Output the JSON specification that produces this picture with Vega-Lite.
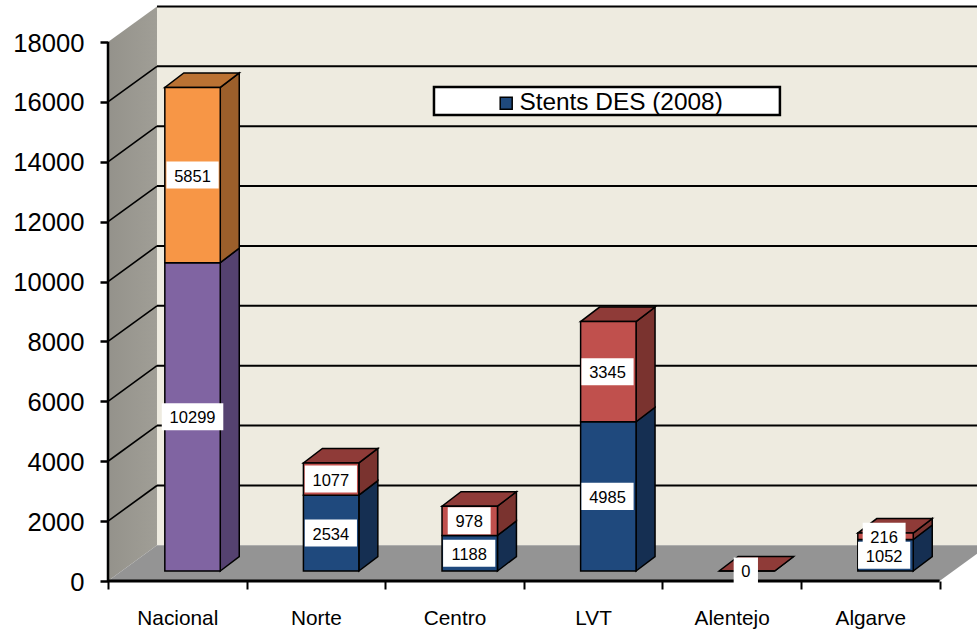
{
"$schema":"https://vega.github.io/schema/vega-lite/v6.json",
"width":869,"height":581,
"autosize":"none",
"padding":{"left":108,"top":0,"right":0,"bottom":51},
"background":"white",
"config":{"view":{"stroke":null},"font":"Liberation Sans"},
"datasets":{
"bars":[
{"region":"Nacional","segment":1,"value":10299},
{"region":"Nacional","segment":2,"value":5851},
{"region":"Norte","segment":1,"value":2534},
{"region":"Norte","segment":2,"value":1077},
{"region":"Centro","segment":1,"value":1188},
{"region":"Centro","segment":2,"value":978},
{"region":"LVT","segment":1,"value":4985},
{"region":"LVT","segment":2,"value":3345},
{"region":"Alentejo","segment":2,"value":0},
{"region":"Algarve","segment":1,"value":1052},
{"region":"Algarve","segment":2,"value":216}
],
"grid":[{"v":2000},{"v":4000},{"v":6000},{"v":8000},{"v":10000},{"v":12000},{"v":14000},{"v":16000},{"v":18000}]
},
"encoding":{
"x":{"field":"px","type":"quantitative","title":null,"scale":{"domain":[0,6.27],"nice":false,"zero":false},
"axis":{"values":[0,0.5,1,1.5,2,2.5,3,3.5,4,4.5,5,5.5,6],"grid":false,"domain":false,"tickColor":"black","tickWidth":2,"tickSize":8,
"tickOpacity":{"condition":{"test":"datum.value % 1 === 0","value":1},"value":0},
"labelExpr":"datum.value % 1 === 0 ? '' : ['Nacional','Norte','Centro','LVT','Alentejo','Algarve'][floor(datum.value)]",
"labelFontSize":20.8,"labelFont":"Liberation Sans","labelColor":"black","labelPadding":19,"labelOverlap":false,"labelBound":false,"labelFlush":false,"labelAngle":0}},
"y":{"field":"py","type":"quantitative","title":null,"scale":{"domain":[0,19405],"nice":false,"zero":false},
"axis":{"values":[0,2000,4000,6000,8000,10000,12000,14000,16000,18000],"grid":false,"domain":false,"tickColor":"black","tickWidth":2.5,"tickSize":8,
"format":"d","labelFontSize":25.6,"labelFont":"Liberation Sans","labelColor":"black","labelPadding":16,"labelOffset":1,"labelOverlap":false,"labelBound":false,"labelFlush":false}}
},
"layer":[
{"data":{"values":[{"k":1}]},
"transform":[{"calculate":"0.3535","as":"px"},{"calculate":"6.27","as":"px2"},{"calculate":"1190","as":"py"},{"calculate":"19190","as":"py2"}],
"mark":{"type":"rect","fill":"#eeebe0","stroke":null},
"encoding":{"x2":{"field":"px2"},"y2":{"field":"py2"}}},
{"data":{"values":[{"t":0},{"t":1}]},
"transform":[{"calculate":"datum.t*0.3535","as":"px"},{"calculate":"datum.t*1190","as":"py"},{"calculate":"18000+datum.t*1190","as":"py2"}],
"mark":{"type":"area","orient":"vertical","fill":{"gradient":"linear","x1":0,"y1":0,"x2":1,"y2":0,"stops":[{"offset":0,"color":"#94928b"},{"offset":1,"color":"#a09e96"}]},"stroke":null},
"encoding":{"y2":{"field":"py2"}}},
{"data":{"values":[{"c":0},{"c":1},{"c":2},{"c":3}]},
"transform":[{"calculate":"[0,0.3535,6,6.27][datum.c]","as":"px"},{"calculate":"[0,0,0,909][datum.c]","as":"py"},{"calculate":"[0,1190,1190,1190][datum.c]","as":"py2"}],
"mark":{"type":"area","orient":"vertical","fill":"#949494","stroke":null},
"encoding":{"y2":{"field":"py2"}}},
{"data":{"name":"grid"},
"mark":{"type":"rule","color":"black","strokeWidth":2},
"transform":[{"calculate":"datum.v+1190","as":"py"},{"calculate":"0.3535","as":"px"},{"calculate":"6.27","as":"px2"}],
"encoding":{"x2":{"field":"px2"}}},
{"data":{"name":"grid"},
"transform":[{"filter":"datum.v<18000"},{"calculate":"[0,1]","as":"t"},{"flatten":["t"]},{"calculate":"datum.t*0.3535","as":"px"},{"calculate":"datum.v+datum.t*1190","as":"py"}],
"mark":{"type":"line","color":"black","strokeWidth":1.6},
"encoding":{"detail":{"field":"v"}}},
{"data":{"name":"bars"},
"transform":[
{"stack":"value","groupby":["region"],"sort":[{"field":"segment","order":"ascending"}],"as":["s0","s1"]},
{"calculate":"indexof(['Nacional','Norte','Centro','LVT','Alentejo','Algarve'],datum.region)","as":"idx"},
{"calculate":"'side'+(datum.region=='Nacional'?'N':'R')+datum.segment","as":"key"},
{"calculate":"datum.region+datum.segment","as":"part"},
{"calculate":"[0,1]","as":"t"},{"flatten":["t"]},
{"calculate":"datum.idx+0.81+datum.t*0.137","as":"px"},
{"calculate":"334+datum.s0+datum.t*484","as":"py"},
{"calculate":"334+datum.s1+datum.t*484","as":"py2"}],
"mark":{"type":"area","orient":"vertical","stroke":"black","strokeWidth":1.5},
"encoding":{"y2":{"field":"py2"},"detail":{"field":"part"},
"fill":{"field":"key","type":"nominal","legend":null,"scale":{"domain":["frontN1","frontN2","frontR1","frontR2","sideN1","sideN2","sideR1","sideR2","topN2","topR2"],"range":["#8064a2","#f79646","#1f497d","#c0504d","#554270","#9c5f2b","#152f52","#7a332f","#bb7233","#8f3b38"]}}}},
{"data":{"name":"bars"},
"transform":[
{"stack":"value","groupby":["region"],"sort":[{"field":"segment","order":"ascending"}],"as":["s0","s1"]},
{"joinaggregate":[{"op":"max","field":"s1","as":"total"}],"groupby":["region"]},
{"filter":"datum.s1==datum.total"},
{"calculate":"indexof(['Nacional','Norte','Centro','LVT','Alentejo','Algarve'],datum.region)","as":"idx"},
{"calculate":"'top'+(datum.region=='Nacional'?'N':'R')+datum.segment","as":"key"},
{"calculate":"[0,1,2,3]","as":"c"},{"flatten":["c"]},
{"calculate":"datum.idx+[0.41,0.547,0.81,0.947][datum.c]","as":"px"},
{"calculate":"334+datum.s1+[0,0,0,484][datum.c]","as":"py"},
{"calculate":"334+datum.s1+[0,484,484,484][datum.c]","as":"py2"}],
"mark":{"type":"area","orient":"vertical","stroke":"black","strokeWidth":1.5},
"encoding":{"y2":{"field":"py2"},"detail":{"field":"region"},
"fill":{"field":"key","type":"nominal","legend":null}}},
{"data":{"name":"bars"},
"transform":[
{"stack":"value","groupby":["region"],"sort":[{"field":"segment","order":"ascending"}],"as":["s0","s1"]},
{"calculate":"indexof(['Nacional','Norte','Centro','LVT','Alentejo','Algarve'],datum.region)","as":"idx"},
{"calculate":"'front'+(datum.region=='Nacional'?'N':'R')+datum.segment","as":"key"},
{"calculate":"datum.idx+0.41","as":"px"},{"calculate":"datum.idx+0.81","as":"px2"},
{"calculate":"334+datum.s0","as":"py"},{"calculate":"334+datum.s1","as":"py2"}],
"mark":{"type":"rect","stroke":"black","strokeWidth":1.5},
"encoding":{"x2":{"field":"px2"},"y2":{"field":"py2"},"fill":{"field":"key","type":"nominal","legend":null}}},
{"data":{"values":[{"k":1}]},
"transform":[{"calculate":"0","as":"px"},{"calculate":"0","as":"py"},{"calculate":"18000","as":"py2"}],
"mark":{"type":"rule","color":"black","strokeWidth":2.5},
"encoding":{"y2":{"field":"py2"}}},
{"data":{"values":[{"k":1}]},
"transform":[{"calculate":"0","as":"px"},{"calculate":"6","as":"px2"},{"calculate":"0","as":"py"}],
"mark":{"type":"rule","color":"black","strokeWidth":3},
"encoding":{"x2":{"field":"px2"}}},
{"data":{"name":"bars"},
"transform":[
{"stack":"value","groupby":["region"],"sort":[{"field":"segment","order":"ascending"}],"as":["s0","s1"]},
{"calculate":"indexof(['Nacional','Norte','Centro','LVT','Alentejo','Algarve'],datum.region)","as":"idx"},
{"calculate":"(9.3*length(''+datum.value)+15)/2/138.6","as":"hw"},
{"calculate":"datum.idx+0.61-datum.idx*0.002-datum.hw","as":"px"},{"calculate":"datum.idx+0.61-datum.idx*0.002+datum.hw","as":"px2"},
{"calculate":"334+datum.s0+datum.value/2-451","as":"py"},{"calculate":"334+datum.s0+datum.value/2+451","as":"py2"}],
"mark":{"type":"rect","fill":"white","stroke":null},
"encoding":{"x2":{"field":"px2"},"y2":{"field":"py2"}}},
{"data":{"name":"bars"},
"transform":[
{"stack":"value","groupby":["region"],"sort":[{"field":"segment","order":"ascending"}],"as":["s0","s1"]},
{"calculate":"indexof(['Nacional','Norte','Centro','LVT','Alentejo','Algarve'],datum.region)","as":"idx"},
{"calculate":"datum.idx+0.61-datum.idx*0.002","as":"px"},
{"calculate":"334+datum.s0+datum.value/2","as":"py"}],
"mark":{"type":"text","font":"Liberation Sans","fontSize":16.5,"color":"black","baseline":"middle","align":"center","dy":1.5},
"encoding":{"text":{"field":"value","type":"quantitative","format":"d"}}},
{"data":{"values":[{"k":1}]},
"transform":[{"calculate":"2.352","as":"px"},{"calculate":"4.848","as":"px2"},{"calculate":"15564","as":"py"},{"calculate":"16499","as":"py2"}],
"mark":{"type":"rect","fill":"white","stroke":"black","strokeWidth":2.5},
"encoding":{"x2":{"field":"px2"},"y2":{"field":"py2"}}},
{"data":{"values":[{"k":1}]},"transform":[{"calculate":"2.5","as":"px"},{"calculate":"16000","as":"py"}],
"mark":{"type":"point","size":0,"filled":true,"fill":"#1f497d","stroke":"black","strokeWidth":2,"opacity":1},
"encoding":{"shape":{"datum":"Stents DES (2008)","scale":{"range":["square"]},
"legend":{"title":null,"orient":"none","legendX":386,"legendY":91,"padding":0,"symbolSize":144,"symbolFillColor":"#1f497d","labelFontSize":24.4,"labelFont":"Liberation Sans","labelColor":"black","labelOffset":1,"labelLimit":300,
"encoding":{"symbols":{"update":{"stroke":{"value":"black"},"strokeWidth":{"value":2},"fill":{"value":"#1f497d"}}}}}}}}
]
}
